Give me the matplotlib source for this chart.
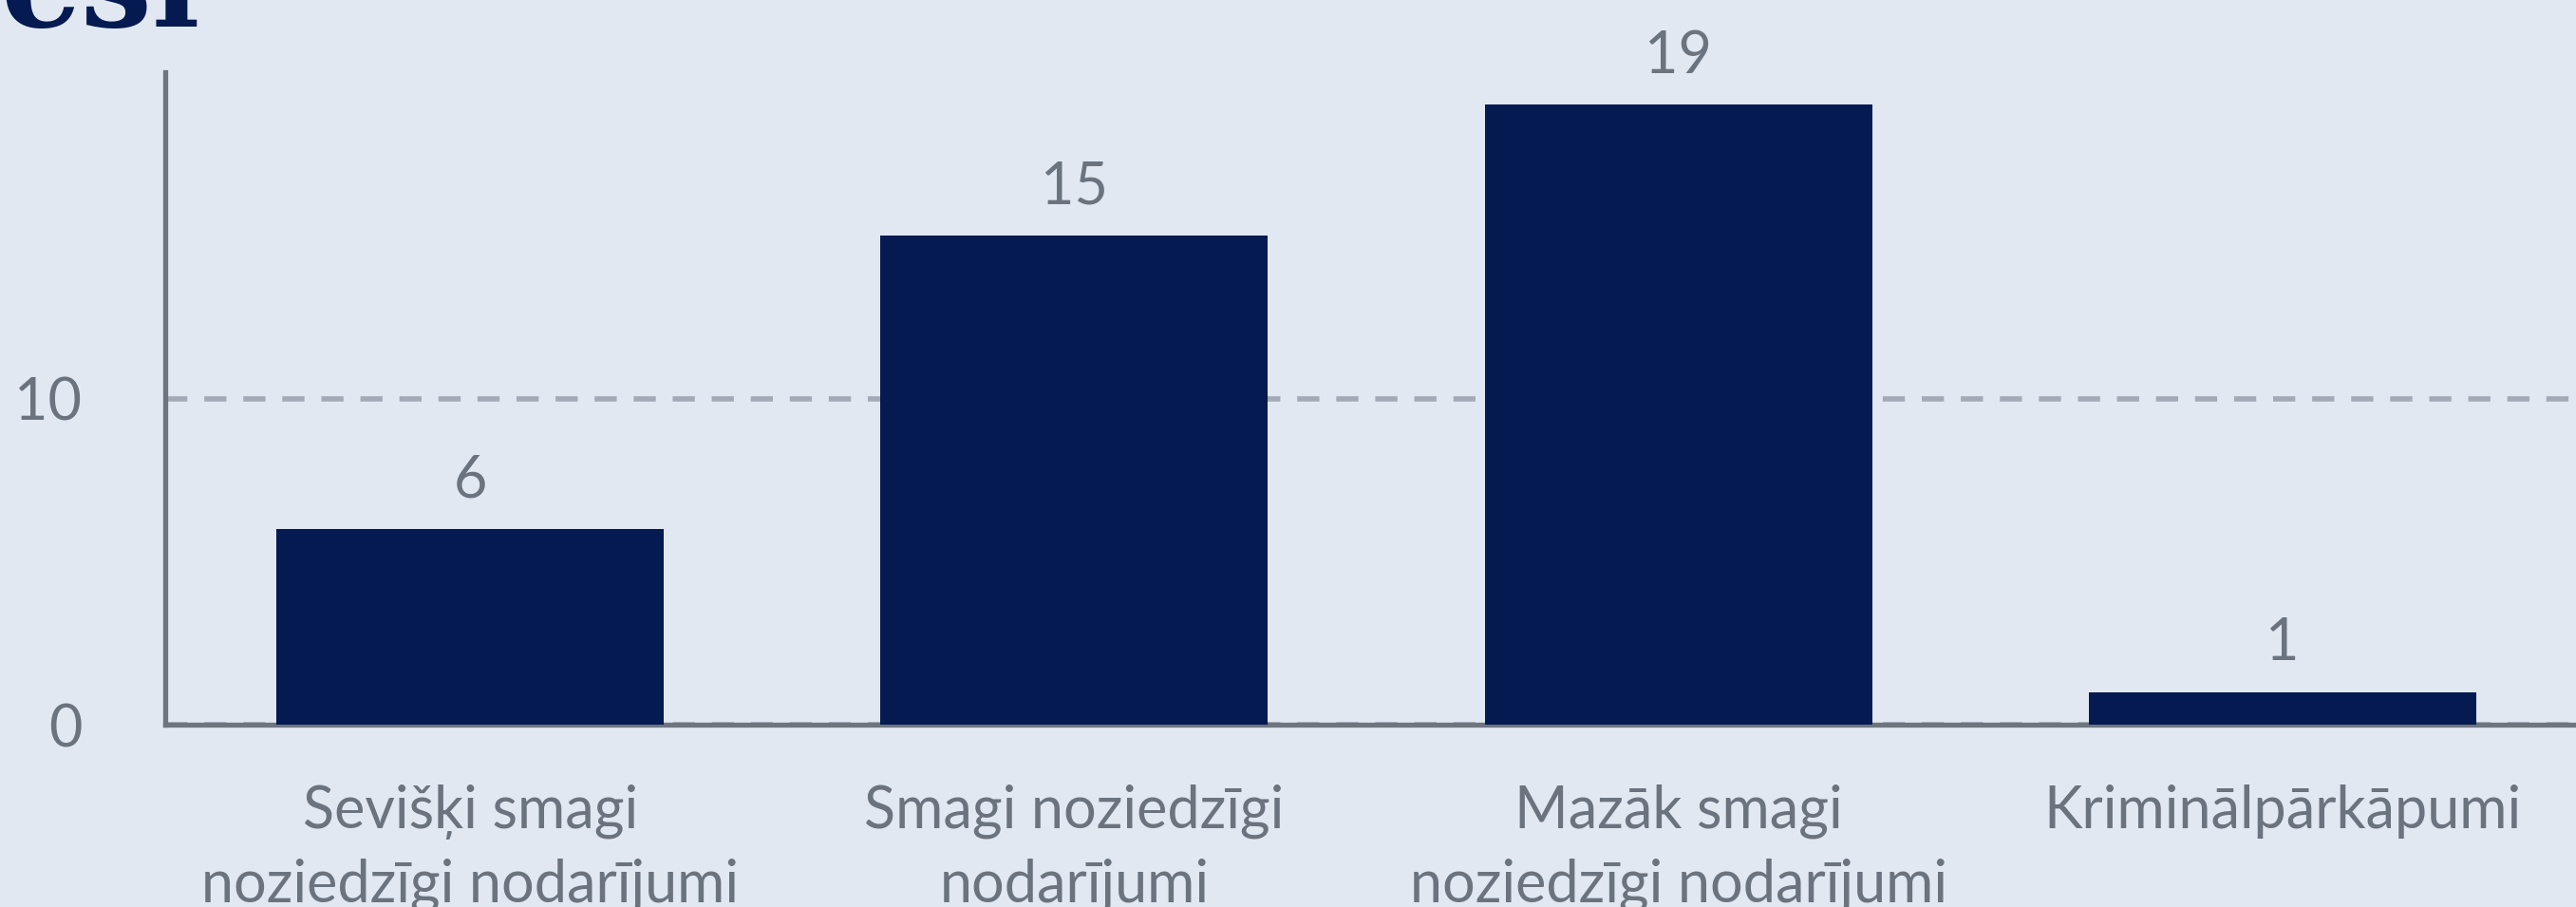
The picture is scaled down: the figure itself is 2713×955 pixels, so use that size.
import matplotlib.pyplot as plt

# data
categories = ['Sevišķi smagi\nnoziedzīgi nodarījumi', 'Smagi noziedzīgi\nnodarījumi',
              'Mazāk smagi\nnoziedzīgi nodarījumi', 'Kriminālpārkāpumi']
counts = [6, 15, 19, 1]
y_ticks = [0, 10]

bg = '#e1e8f2'
navy = '#041a50'
gray = '#6b737e'

plt.rcParams['font.family'] = ['Lato', 'DejaVu Sans']

fig = plt.figure(figsize=(27.13, 9.55), dpi=100, facecolor=bg)
ax = fig.add_axes([0.0641, 0.2010, 0.9359, 0.7194], facecolor=bg)

x = list(range(len(categories)))
bars = ax.bar(x, counts, width=0.641, color=navy, zorder=3)

# value labels above bars
for xi, v in zip(x, counts):
    ax.annotate(str(v), (xi, v), xytext=(0, 16), textcoords='offset points',
                ha='center', va='bottom', fontsize=44, color=gray)

ax.set_xlim(-0.505, 3.486)
ax.set_ylim(0, 20)
ax.set_yticks(y_ticks)
ax.set_xticks(x)
ax.set_xticklabels(categories, fontsize=44, color=gray, linespacing=1.44)
ax.tick_params(axis='y', length=0, pad=63, labelsize=44, labelcolor=gray)
ax.tick_params(axis='x', length=0, pad=45)

# dashed grid line at 10
ax.yaxis.grid(True, color='#a3aab5', linewidth=4, dashes=(4.2, 3.2), zorder=0)
ax.set_axisbelow(True)

for side in ['top', 'right']:
    ax.spines[side].set_visible(False)
for side in ['left', 'bottom']:
    ax.spines[side].set_color('#6e757f')
    ax.spines[side].set_linewidth(3.8)

# title, mostly cut off at the top
fig.text(0.0, 1 - 28 / 955, 'esi', fontsize=96, fontweight='bold',
         family='DejaVu Serif', color=navy, ha='left', va='baseline')

fig.savefig('out.png', dpi=100, facecolor=bg)
